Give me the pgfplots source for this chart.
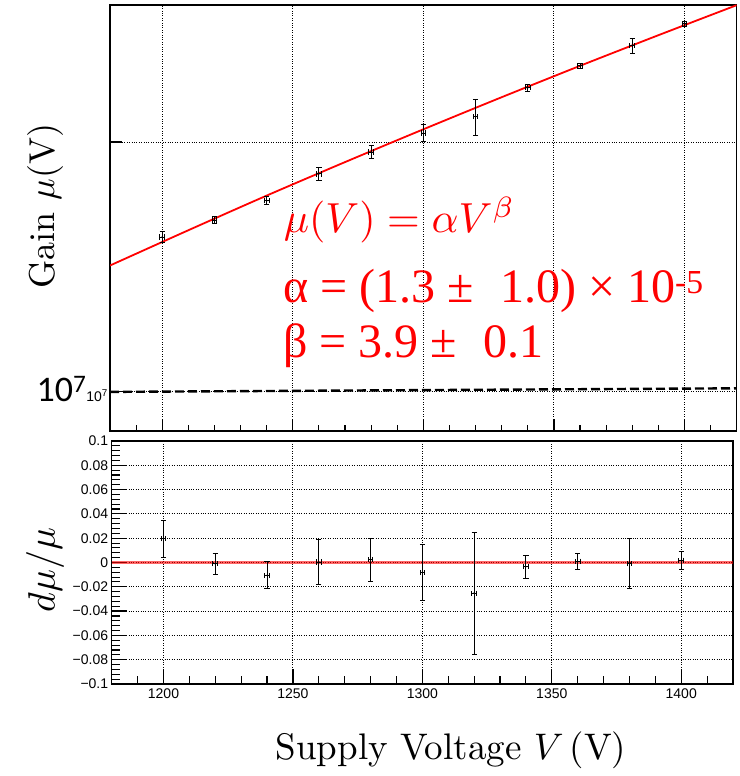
\documentclass[border=0pt]{standalone}
\usepackage{fontspec}
\usepackage{pgfplots}
\pgfplotsset{compat=1.18}
\newfontfamily\arialfont{Liberation Sans}
\newfontfamily\carlitofont{Carlito}
\newfontfamily\timesfont{Liberation Serif}

\pgfplotstableread{
V     G        dV   dG
1200  1.537e7  0.9  2.34e5
1220  1.611e7  0.9  1.42e5
1240  1.699e7  0.9  1.89e5
1260  1.831e7  0.9  3.35e5
1280  1.946e7  0.9  3.44e5
1300  2.051e7  0.9  4.78e5
1320  2.145e7  0.9  1.077e6
1340  2.325e7  0.9  2.16e5
1360  2.471e7  0.9  1.58e5
1380  2.612e7  0.9  5.38e5
1400  2.776e7  0.9  2.00e5
}\gaindata

\pgfplotstableread{
V     r        dV   dr
1200  0.0196   0.9  0.0152
1220  -0.0011  0.9  0.0088
1240  -0.0106  0.9  0.0111
1260  0.0004   0.9  0.0183
1280  0.0024   0.9  0.0177
1300  -0.0082  0.9  0.0233
1320  -0.0252  0.9  0.0502
1340  -0.0035  0.9  0.0093
1360  0.0010   0.9  0.0064
1380  -0.0010  0.9  0.0206
1400  0.0018   0.9  0.0072
}\resdata

\begin{document}
\begin{tikzpicture}
\useasboundingbox (0pt,0pt) rectangle (739pt,776pt);
\pgfplotsset{
  errstyle/.style={black, only marks, mark=*, mark size=0.5pt,
    error bars/.cd, x dir=both, x explicit, y dir=both, y explicit,
    error bar style={line width=0.9pt},
    error mark options={rotate=90, black, mark size=2.6pt, line width=0.9pt}},
  panel/.style={
    scale only axis, anchor=south west,
    xmin=1180, xmax=1420,
    xtick={1200,1250,1300,1350,1400},
    minor xtick={1190,1210,1220,1230,1240,1260,1270,1280,1290,1310,1320,1330,1340,1360,1370,1380,1390,1410},
    tick align=inside, xtick pos=left, ytick pos=left,
    grid=major, major grid style={black, dotted, line width=0.9pt},
    axis line style={black, line width=1.3pt},
    tick style={black, line width=1.1pt},
    major tick style={black, solid, line width=1.2pt},
    /pgf/number format/1000 sep={},
  },
}
% ---------- top panel ----------
\begin{axis}[panel,
  at={(110pt,345pt)},
  width=626.7pt, height=426pt,
  ymode=log, ymin=8.974e6, ymax=2.926e7,
  xticklabels={},
  ytick={1e7,2e7},
  yticklabels={{{\carlitofont\fontsize{36}{36}\selectfont 10\textsuperscript{7}}{\arialfont\fontsize{14}{14}\selectfont 10\textsuperscript{7}}},{}},
  yticklabel style={anchor=base east, yshift=-10pt, inner sep=2pt},
  yminorticks=false,
  major tick length=12pt, minor tick length=6pt,
]
\addplot[black, line width=2.4pt, dash pattern=on 9pt off 4pt] coordinates {(1180,1e7) (1420,1.01e7)};
\addplot[red, line width=1.8pt, smooth] coordinates {
 (1180,1.420e7) (1210,1.566e7) (1240,1.724e7) (1270,1.892e7) (1300,2.072e7)
 (1330,2.265e7) (1360,2.471e7) (1390,2.690e7) (1420,2.924e7)};
\addplot[errstyle] table[x=V, y=G, x error=dV, y error=dG] {\gaindata};
\end{axis}
% ---------- bottom panel ----------
\begin{axis}[panel,
  at={(111.7pt,92pt)},
  width=621.3pt, height=243pt,
  ymin=-0.1, ymax=0.1,
  ytick={-0.1,-0.08,-0.06,-0.04,-0.02,0,0.02,0.04,0.06,0.08,0.1},
  yticklabels={−0.1,−0.08,−0.06,−0.04,−0.02,0,0.02,0.04,0.06,0.08,0.1},
  minor y tick num=4,
  /pgf/number format/assume math mode=true,
  xticklabel style={font=\arialfont\fontsize{14}{14}\selectfont, yshift=-1pt},
  yticklabel style={font=\arialfont\fontsize{14}{14}\selectfont},
  major tick length=15pt, minor tick length=8pt,
]
\addplot[red, opacity=0.6, line width=2.2pt] coordinates {(1180,0) (1420,0)};
\addplot[errstyle] table[x=V, y=r, x error=dV, y error=dr] {\resdata};
\end{axis}
% ---------- labels ----------
\node[rotate=90, scale=3.6] at (45pt,570pt) {Gain $\mu$(V)};
\node[rotate=90, scale=3.8] at (45pt,206pt) {$d\mu/\mu$};
\node[anchor=base, scale=3.7] at (451pt,16pt) {Supply Voltage $V$\,(V)};
% ---------- fit annotation ----------
\node[anchor=base west, red, inner sep=0, scale=4.2] at (283pt,543pt) {$\mu(V) = \alpha V^{\beta}$};
\node[anchor=base west, red, inner sep=0] at (283pt,473pt) {\timesfont\fontsize{48}{48}\selectfont α = (1.3 ±\hspace{0.3em} 1.0) × 10\textsuperscript{-5}};
\node[anchor=base west, red, inner sep=0] at (283pt,418pt) {\timesfont\fontsize{48}{48}\selectfont β = 3.9 ±\hspace{0.3em} 0.1};
\end{tikzpicture}
\end{document}
